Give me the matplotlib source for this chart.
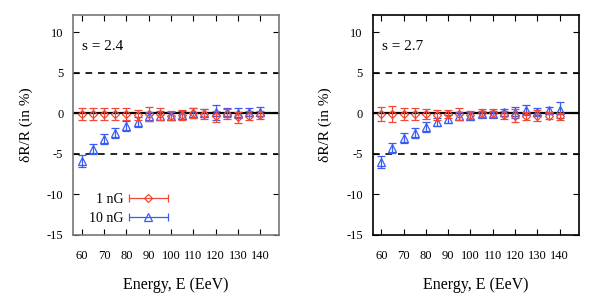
import numpy as np
import matplotlib
matplotlib.use('Agg')
import matplotlib.pyplot as plt
from matplotlib.lines import Line2D
from matplotlib.collections import LineCollection
from matplotlib.container import ErrorbarContainer
from matplotlib.legend_handler import HandlerErrorbar

plt.rcParams['font.family'] = ['Liberation Serif', 'DejaVu Serif']
plt.rcParams['axes.unicode_minus'] = False

# energies (EeV)
energy = [60, 65, 70, 75, 80, 85, 90, 95, 100, 105, 110, 115, 120, 125, 130, 135, 140]

# s = 2.4
left_1nG = [-0.1, -0.1, -0.1, -0.1, -0.1, -0.2, -0.1, -0.1, -0.3, -0.2, 0.0, -0.1, -0.4, -0.1, -0.5, -0.3, -0.2]
left_1nG_err = [0.7, 0.7, 0.7, 0.7, 0.7, 0.6, 0.9, 0.7, 0.6, 0.6, 0.6, 0.6, 0.7, 0.6, 0.7, 0.6, 0.5]
left_10nG = [-5.9, -4.4, -3.2, -2.4, -1.6, -1.1, -0.4, -0.3, -0.3, -0.2, 0.0, 0.0, 0.1, 0.1, 0.0, 0.1, 0.2]
left_10nG_err = [0.7, 0.6, 0.6, 0.6, 0.6, 0.6, 0.6, 0.6, 0.5, 0.5, 0.6, 0.5, 0.9, 0.6, 0.6, 0.5, 0.6]

# s = 2.7
right_1nG = [-0.1, -0.1, -0.1, -0.1, -0.1, -0.2, -0.1, -0.1, -0.2, 0.0, 0.0, -0.2, -0.3, -0.4, -0.3, -0.3, -0.4]
right_1nG_err = [0.9, 1.0, 0.8, 0.7, 0.6, 0.6, 0.5, 0.8, 0.5, 0.5, 0.5, 0.5, 0.8, 0.5, 0.7, 0.4, 0.4]
right_10nG = [-6.0, -4.3, -3.1, -2.4, -1.7, -1.1, -0.7, -0.4, -0.3, -0.1, -0.1, 0.1, 0.1, 0.4, 0.2, 0.4, 0.4]
right_10nG_err = [0.7, 0.6, 0.6, 0.6, 0.6, 0.5, 0.5, 0.5, 0.5, 0.4, 0.4, 0.4, 0.7, 0.6, 0.4, 0.4, 1.0]

panels = [
    ('s = 2.4', left_1nG, left_1nG_err, left_10nG, left_10nG_err, '#777777'),
    ('s = 2.7', right_1nG, right_1nG_err, right_10nG, right_10nG_err, 'black'),
]

red = '#f04a36'
blue = '#3a5cf5'
red_style = dict(fmt='D', ms=4, mfc='none', mec=red, color=red, ecolor=red,
                 elinewidth=0.9, capsize=3, capthick=0.9, mew=0.9)
blue_style = dict(fmt='^', ms=6, mfc='none', mec=blue, color=blue, ecolor=blue,
                  elinewidth=0.9, capsize=3, capthick=0.9, mew=0.9)


def key_handle(marker, ms, col):
    # errorbar container with horizontal bar only, for the key
    pt = Line2D([], [], ls='none', marker=marker, ms=ms, mfc='none', mec=col, mew=0.9)
    cap = Line2D([], [], ls='none', marker='|', ms=6, color=col, mew=0.9)
    bar = LineCollection([], colors=col, linewidths=0.9)
    return ErrorbarContainer((pt, (cap, cap), (bar,)), has_xerr=True, has_yerr=False)


fig = plt.figure(figsize=(5.99, 3.0), dpi=100)
lefts = [0.122, 0.622]

for i, (lab, r, re, b, be, spcol) in enumerate(panels):
    ax = fig.add_axes([lefts[i], 0.217, 0.344, 0.733])
    ax.axhline(0, color='black', lw=1.6, zorder=1)
    ax.axhline(5, color='black', lw=1.2, ls=(0, (4, 3.5)), zorder=1)
    ax.axhline(-5, color='black', lw=1.2, ls=(0, (4, 3.5)), zorder=1)

    ax.errorbar(energy, r, yerr=re, zorder=3, **red_style)
    ax.errorbar(energy, b, yerr=be, zorder=2, **blue_style)

    ax.set_xlim(56.1, 148.5)
    ax.set_ylim(-15, 12.1)
    ax.set_xticks(np.arange(60, 141, 10))
    ax.set_yticks([-15, -10, -5, 0, 5, 10])
    ax.tick_params(direction='in', top=True, right=True, length=4, width=0.8,
                   labelsize=9)
    ax.tick_params(axis='x', pad=11)
    ax.tick_params(axis='y', pad=7)
    for sp in ax.spines.values():
        sp.set_color(spcol)
        sp.set_linewidth(1.2)
    ax.set_xlabel('Energy, E (EeV)', fontsize=11.5, labelpad=11)
    ax.set_ylabel('δR/R (in %)', fontsize=11, labelpad=10)
    ax.text(0.045, 0.855, lab, transform=ax.transAxes, fontsize=11,
            va='center', ha='left')

    if i == 0:
        h1 = key_handle('D', 4, red)
        h2 = key_handle('^', 6, blue)
        leg = ax.legend([h1, h2], ['1 nG', '10 nG'], loc='upper left',
                        bbox_to_anchor=(0.015, 0.247), frameon=False,
                        markerfirst=False, handlelength=4.2, fontsize=10,
                        labelspacing=0.45, handletextpad=-0.3,
                        handler_map={ErrorbarContainer: HandlerErrorbar(xerr_size=1.4)})
        for t in leg.get_texts():
            t.set_ha('right')

fig.savefig('out.png', dpi=100)
